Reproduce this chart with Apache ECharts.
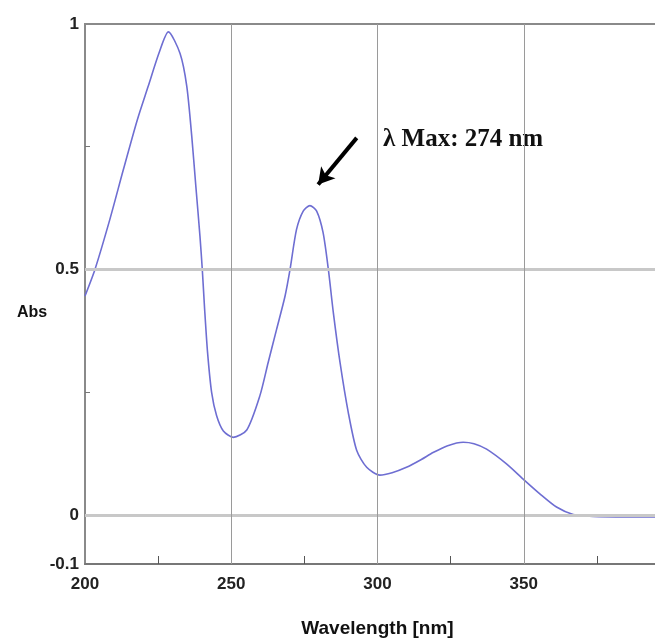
<!DOCTYPE html>
<html>
<head>
<meta charset="utf-8">
<script src="https://cdn.jsdelivr.net/npm/echarts@6/dist/echarts.min.js"></script>
<style>html,body{margin:0;padding:0;background:#fff;overflow:hidden;}#c{width:700px;height:643px;}</style>
</head>
<body>
<div id="c"></div>
<script>
const wavelength = [200, 203.4, 208.5, 213.1, 217.9, 221.6, 225.3, 228.5, 232.5, 234.8, 236.5, 237.9, 239.3, 240.1, 240.9, 241.9, 243.3, 245, 247.3, 250.7, 255.3, 259.8, 262.6, 265.5, 268.4, 270.1, 272.3, 274.6, 276.9, 279.2, 281.4, 283.2, 284.9, 287.2, 290, 292.9, 296.3, 300.8, 305, 309.9, 315, 319, 324, 329.3, 333, 337.3, 344.1, 349.8, 355.5, 361.2, 366.9, 373.7, 385, 400];
const absorbance = [0.446, 0.50, 0.602, 0.703, 0.805, 0.873, 0.941, 0.984, 0.940, 0.873, 0.771, 0.669, 0.568, 0.50, 0.419, 0.331, 0.249, 0.202, 0.171, 0.158, 0.173, 0.243, 0.31, 0.378, 0.446, 0.5, 0.581, 0.619, 0.630, 0.619, 0.575, 0.5, 0.412, 0.31, 0.209, 0.131, 0.097, 0.081, 0.086, 0.097, 0.113, 0.127, 0.141, 0.148, 0.145, 0.134, 0.104, 0.073, 0.043, 0.016, 0.001, -0.003, -0.004, -0.004];
const yLabelValues = [-0.1, 0, 0.5, 1];
const yMinorTicks = [0.25, 0.75];
const xMinorTicks = [225, 275, 325, 375];
const hGrid = [0, 0.5];
const vGrid = [250, 300, 350, 400];
const annotationText = 'λ Max: 274 nm';
const arrowFrom = [292.9, 0.768];
const arrowTo = [279.7, 0.673];

const chart = echarts.init(document.getElementById('c'), null, {renderer: 'canvas'});
const gridLines = [];
hGrid.forEach(v => gridLines.push({yAxis: v, lineStyle: {color: '#c8c8c8', width: 3, type: 'solid'}}));
vGrid.forEach(v => gridLines.push({xAxis: v, lineStyle: {color: '#9a9a9a', width: 1, type: 'solid'}}));

chart.setOption({
  animation: false,
  backgroundColor: '#fff',
  grid: {left: 85, top: 24, right: 30, bottom: 78, show: true, borderColor: '#8a8a8a', borderWidth: 2, backgroundColor: 'transparent'},
  xAxis: {
    type: 'value', min: 200, max: 400, interval: 50,
    name: 'Wavelength [nm]', nameLocation: 'middle', nameGap: 55,
    nameTextStyle: {fontFamily: 'Liberation Sans', fontWeight: 'bold', fontSize: 19, color: '#111'},
    axisLine: {show: true, onZero: false, lineStyle: {color: '#777', width: 2}},
    axisTick: {show: true, inside: true, length: 8, customValues: xMinorTicks, lineStyle: {color: '#555', width: 1}},
    axisLabel: {fontFamily: 'Liberation Sans', fontWeight: 'bold', fontSize: 17, color: '#222', margin: 12},
    splitLine: {show: false}
  },
  yAxis: {
    type: 'value', min: -0.1, max: 1,
    axisLine: {show: true, onZero: false, lineStyle: {color: '#8a8a8a', width: 2}},
    axisTick: {show: true, inside: true, length: 5, customValues: yMinorTicks, lineStyle: {color: '#777'}},
    axisLabel: {customValues: yLabelValues, fontFamily: 'Liberation Sans', fontWeight: 'bold', fontSize: 17, color: '#222', margin: 6,
      formatter: v => String(v)},
    splitLine: {show: false}
  },
  graphic: [
    {type: 'text', left: 17, top: 305, style: {text: 'Abs', fontFamily: 'Liberation Sans', fontWeight: 'bold', fontSize: 16, fill: '#111'}},
    {type: 'text', left: 383, top: 127, style: {text: annotationText, fontFamily: 'Liberation Serif', fontWeight: 'bold', fontSize: 25, fill: '#111'}}
  ],
  series: [
    {
      type: 'line', data: [], z: 1, silent: true,
      markLine: {silent: true, symbol: ['none', 'none'], label: {show: false}, data: gridLines}
    },
    {
      type: 'line', z: 3, showSymbol: false, smooth: 0.25,
      data: wavelength.map((w, i) => [w, absorbance[i]]),
      lineStyle: {color: '#6e6ed2', width: 1.6},
      markLine: {silent: true, symbol: ['none', 'arrow'], symbolSize: [14, 16], label: {show: false},
        lineStyle: {color: '#000', width: 4, type: 'solid'},
        data: [[{coord: arrowFrom}, {coord: arrowTo}]]}
    }
  ]
});
</script>
</body>
</html>
